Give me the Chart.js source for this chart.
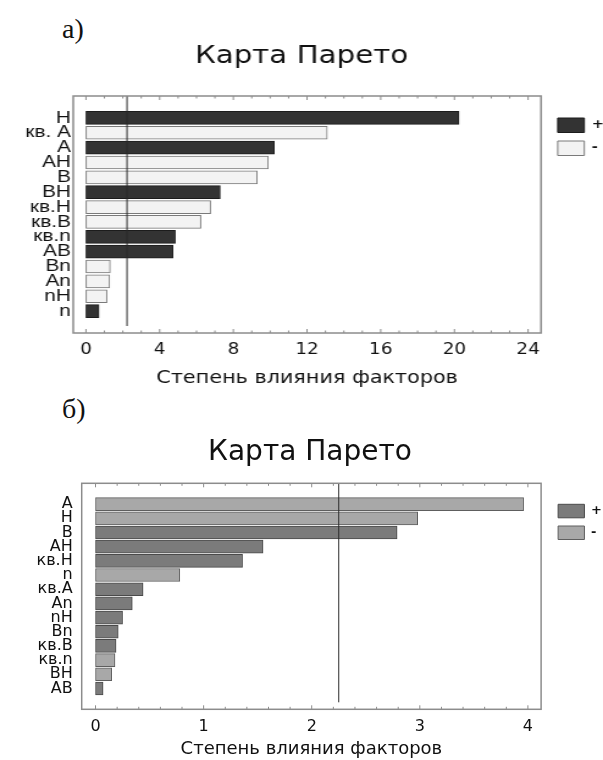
<!DOCTYPE html>
<html lang="ru">
<head>
<meta charset="UTF-8">
<title>Карта Парето</title>
<script src="https://cdn.jsdelivr.net/npm/chart.js"></script>
<style>
  body { margin: 0; background: #fff; }
  .wrap { position: relative; width: 603px; height: 760px; overflow: hidden; }
  .tag { position: absolute; left: 62px; font: 28px/28px 'Liberation Serif', 'Times New Roman', serif; color: #111; }
  canvas { position: absolute; left: 0; }
</style>
</head>
<body>
<div class="wrap">
  <div class="tag" style="top:15px">а)</div>
  <!-- the top chart is stretched sideways in the original, so its canvas is too -->
  <canvas id="chartA" width="494" height="363" style="top:30px;width:603px;height:363px"></canvas>
  <div class="tag" style="top:395px">б)</div>
  <canvas id="chartB" width="603" height="360" style="top:400px;width:603px;height:360px"></canvas>
</div>
<script>
// ---- chart а) ----
const categoriesA = ['Н', 'кв. А', 'А', 'АН', 'В', 'ВН', 'кв.Н', 'кв.В', 'кв.n', 'АВ', 'Вn', 'Аn', 'nН', 'n'];
const effectsA = [20.25, 13.1, 10.22, 9.9, 9.3, 7.29, 6.77, 6.24, 4.85, 4.72, 1.32, 1.29, 1.14, 0.71];
const signsA = ['+', '-', '+', '-', '-', '+', '-', '-', '+', '+', '-', '-', '-', '+'];
const limitA = 2.23;
const xLabelsA = [0, 4, 8, 12, 16, 20, 24];
const xMinorStepA = 1;

// ---- chart б) ----
const categoriesB = ['А', 'Н', 'В', 'АН', 'кв.Н', 'n', 'кв.А', 'Аn', 'nН', 'Вn', 'кв.В', 'кв.n', 'ВН', 'АВ'];
const effectsB = [3.96, 2.98, 2.79, 1.55, 1.36, 0.78, 0.44, 0.34, 0.25, 0.21, 0.19, 0.18, 0.15, 0.07];
const signsB = ['-', '-', '+', '+', '+', '-', '+', '+', '+', '+', '+', '-', '-', '+'];
const limitB = 2.25;
const xLabelsB = [0, 1, 2, 3, 4];
const xMinorStepB = 0.2;

const titleText = 'Карта Парето';
const axisTitle = 'Степень влияния факторов';

Chart.defaults.font.family = "'DejaVu Sans', sans-serif";
Chart.defaults.color = '#111';

function pointsFor(effects, signs, sign) {
    return effects.map((v, i) => ({ x: v, y: i })).filter((p, i) => signs[i] === sign);
}

function stepTicks(labels, step) {
    const lo = labels[0], hi = labels[labels.length - 1];
    const n = Math.round((hi - lo) / step);
    const out = [];
    for (let i = 0; i <= n; i++) out.push({ value: +(lo + i * step).toFixed(6) });
    return out;
}

function isLabelled(v, labels) {
    return labels.some(m => Math.abs(m - v) < 1e-6);
}

// frame with inward ticks, critical value line, legend nudge
const paretoFrame = {
    id: 'paretoFrame',
    afterLayout(chart, args, opts) {
        const lg = chart.legend;
        if (lg && opts.legendShift) {
            lg.left += opts.legendShift[0];
            lg.top += opts.legendShift[1];
            lg.right = chart.width;
            lg.bottom += opts.legendShift[1];
            lg.width = lg.right - lg.left;
        }
    },
    afterDatasetsDraw(chart, args, opts) {
        const { ctx, chartArea: a } = chart;
        const x = chart.scales.x;
        ctx.save();
        const lx = x.getPixelForValue(opts.limit);
        ctx.strokeStyle = '#2a2a2a';
        ctx.lineWidth = 1;
        ctx.beginPath();
        ctx.moveTo(lx, a.top);
        ctx.lineTo(lx, a.bottom - 7);
        ctx.stroke();

        ctx.strokeStyle = '#8c8c8c';
        ctx.lineWidth = 1;
        x.ticks.forEach(t => {
            const px = x.getPixelForValue(t.value);
            const len = isLabelled(t.value, opts.labels) ? 4 : 2.5;
            ctx.beginPath();
            ctx.moveTo(px, a.top);
            ctx.lineTo(px, a.top + len);
            ctx.moveTo(px, a.bottom);
            ctx.lineTo(px, a.bottom - len);
            ctx.stroke();
        });

        ctx.lineWidth = 1.5;
        ctx.strokeRect(a.left, a.top, a.right - a.left, a.bottom - a.top);
        ctx.restore();
    }
};

function makeChart(id, cfg) {
    return new Chart(document.getElementById(id), {
        type: 'bar',
        data: {
            datasets: [{
                label: '+',
                data: pointsFor(cfg.effects, cfg.signs, '+'),
                backgroundColor: cfg.plusColor,
                borderColor: cfg.plusBorder,
                borderWidth: 1,
                borderSkipped: false,
                barThickness: 13,
                grouped: false
            }, {
                label: '-',
                data: pointsFor(cfg.effects, cfg.signs, '-'),
                backgroundColor: cfg.minusColor,
                borderColor: cfg.minusBorder,
                borderWidth: 1,
                borderSkipped: false,
                barThickness: 13,
                grouped: false
            }]
        },
        options: {
            indexAxis: 'y',
            responsive: false,
            animation: false,
            layout: { padding: { left: cfg.padLeft, right: 0, top: 0, bottom: 0 } },
            scales: {
                x: {
                    type: 'linear',
                    position: 'bottom',
                    min: cfg.xMin,
                    max: cfg.xMax,
                    grid: { display: false, drawTicks: false },
                    border: { display: false },
                    afterBuildTicks: s => { s.ticks = stepTicks(cfg.xLabels, cfg.xStep); },
                    ticks: {
                        autoSkip: false,
                        maxRotation: 0,
                        padding: cfg.xTickPad,
                        font: { size: cfg.xTickSize },
                        color: '#111',
                        callback: v => isLabelled(v, cfg.xLabels) ? String(Math.round(v)) : ''
                    },
                    title: {
                        display: true,
                        text: axisTitle,
                        color: '#111',
                        font: { size: cfg.xTitleSize },
                        padding: { top: cfg.xTitlePadTop, bottom: cfg.xTitlePadBottom }
                    }
                },
                y: {
                    type: 'linear',
                    reverse: true,
                    min: -0.9,
                    max: 13.9,
                    grid: { display: false, drawTicks: false },
                    border: { display: false },
                    afterFit: s => { s.width = cfg.yWidth; },
                    afterBuildTicks: s => { s.ticks = cfg.categories.map((c, i) => ({ value: i })); },
                    ticks: {
                        autoSkip: false,
                        padding: cfg.yTickPad,
                        font: cfg.yFont,
                        color: '#111',
                        callback: v => cfg.categories[v]
                    }
                }
            },
            plugins: {
                title: {
                    display: true,
                    text: titleText,
                    color: '#111',
                    font: { size: cfg.titleSize, weight: 'normal' },
                    padding: { top: cfg.titlePadTop, bottom: cfg.titlePadBottom }
                },
                legend: {
                    position: 'right',
                    align: 'start',
                    fullSize: false,
                    maxWidth: cfg.legendWidth,
                    labels: {
                        boxWidth: cfg.boxW,
                        boxHeight: cfg.boxH,
                        padding: cfg.legendPad,
                        color: '#111',
                        font: { size: cfg.legendSize, weight: 'bold' }
                    }
                },
                tooltip: { enabled: false },
                paretoFrame: { limit: cfg.limit, labels: cfg.xLabels, legendShift: cfg.legendShift }
            }
        },
        plugins: [paretoFrame]
    });
}

makeChart('chartA', {
    categories: categoriesA, effects: effectsA, signs: signsA, limit: limitA,
    xLabels: xLabelsA, xStep: xMinorStepA, xMin: -0.69, xMax: 24.7,
    plusColor: '#333333', plusBorder: '#1c1c1c', minusColor: '#f3f3f3', minusBorder: '#7a7a7a',
    padLeft: 0, legendWidth: 50.8, boxW: 21.8, boxH: 14.5, legendPad: 8.5, legendSize: 12,
    legendShift: [5.2, 13.5],
    yWidth: 60, yTickPad: 2, yFont: { family: "'Liberation Sans', Arial, sans-serif", size: 17 },
    xTickPad: 8.5, xTickSize: 15, xTitleSize: 17, xTitlePadTop: 0.8, xTitlePadBottom: 3.8,
    titleSize: 24, titlePadTop: 12.5, titlePadBottom: 24.7
});

makeChart('chartB', {
    categories: categoriesB, effects: effectsB, signs: signsB, limit: limitB,
    xLabels: xLabelsB, xStep: xMinorStepB, xMin: -0.128, xMax: 4.122,
    plusColor: '#7b7b7b', plusBorder: '#4a4a4a', minusColor: '#a8a8a8', minusBorder: '#5e5e5e',
    padLeft: 17, legendWidth: 62.3, boxW: 26.3, boxH: 13.5, legendPad: 8.2, legendSize: 13,
    legendShift: [8.8, 12.8],
    yWidth: 64.7, yTickPad: 9, yFont: { size: 16 },
    xTickPad: 8.1, xTickSize: 16, xTitleSize: 18, xTitlePadTop: -6.5, xTitlePadBottom: 0.2,
    titleSize: 28, titlePadTop: 36.2, titlePadBottom: 13.5
});
</script>
</body>
</html>
